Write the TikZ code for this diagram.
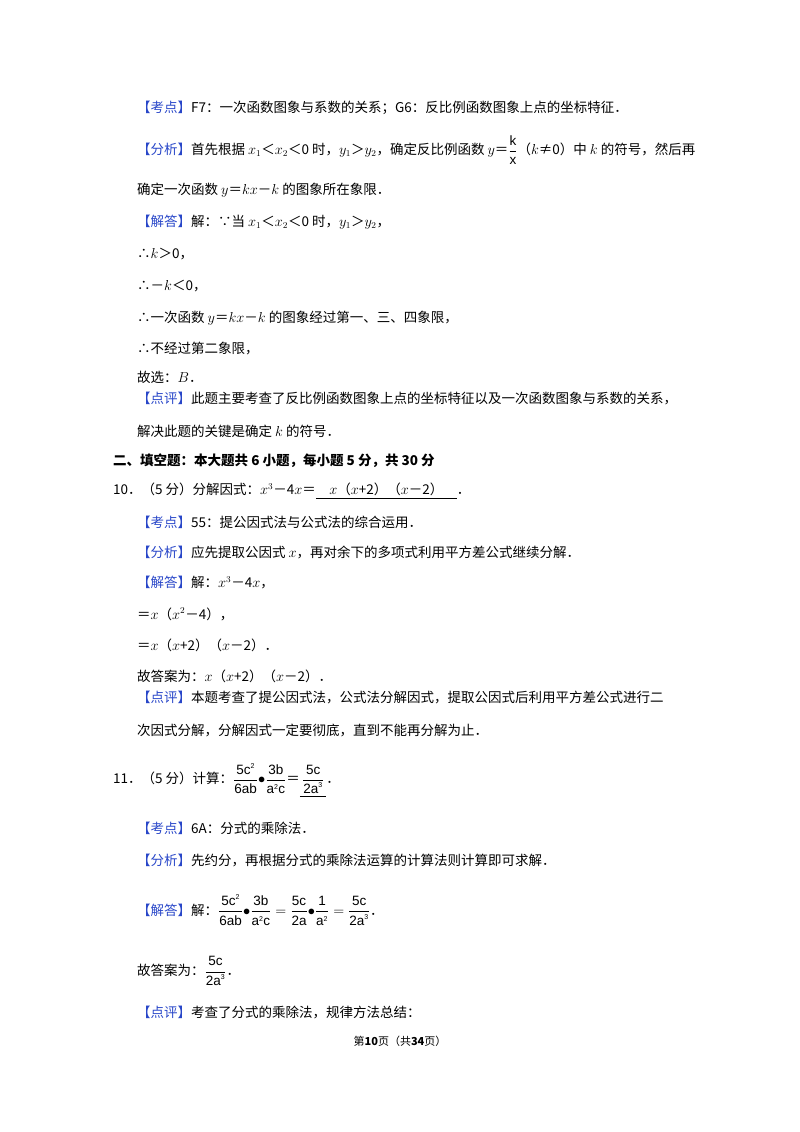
\documentclass[tikz,border=0pt]{standalone}
\usepackage{amsmath}
\usepackage{fontspec}
\setmainfont{Liberation Serif}
\newfontfamily\cjk{Noto Sans CJK SC}
\newfontfamily\sfa{Liberation Sans}
\definecolor{kb}{RGB}{40,70,200}
\newcommand{\kk}[1]{{\color{kb}【#1】}}
\newcommand{\sv}[1]{\mbox{\sfa #1}}
\newcommand{\sq}{\mbox{\sfa\scriptsize 2}}
\newcommand{\cu}{\mbox{\sfa\scriptsize 3}}
\begin{document}
\begin{tikzpicture}[x=1pt,y=-1pt,
  t/.style={anchor=west,inner sep=0pt,font=\cjk\fontsize{13.5}{16}\selectfont}]
\useasboundingbox (0,0) rectangle (800,1132);
\node[t] (a1) at (137,108) {\kk{考点}F7：一次函数图象与系数的关系；G6：反比例函数图象上点的坐标特征．};
\node[t] (a2) at (137,150) {\kk{分析}首先根据 $x_1$＜$x_2$＜0 时，$y_1$＞$y_2$，确定反比例函数 $y$＝$\dfrac{\sv{k}}{\sv{x}}$（$k$≠0）中 $k$ 的符号，然后再};
\node[t] (a3) at (137,190) {确定一次函数 $y$＝$kx$－$k$ 的图象所在象限．};
\node[t] (a4) at (137,222) {\kk{解答}解：∵当 $x_1$＜$x_2$＜0 时，$y_1$＞$y_2$，};
\node[t] (a5) at (137,254) {∴$k$＞0，};
\node[t] (a6) at (137,286) {∴－$k$＜0，};
\node[t] (a7) at (137,318) {∴一次函数 $y$＝$kx$－$k$ 的图象经过第一、三、四象限，};
\node[t] (a8) at (137,349) {∴不经过第二象限，};
\node[t] (a9) at (137,377) {故选：$B$．};
\node[t] (a10) at (137,399) {\kk{点评}此题主要考查了反比例函数图象上点的坐标特征以及一次函数图象与系数的关系，};
\node[t] (a11) at (137,431) {解决此题的关键是确定 $k$ 的符号．};
\node[t,font=\cjk\bfseries\fontsize{13.5}{16}\selectfont] (h) at (113,461) {二、填空题：本大题共 6 小题，每小题 5 分，共 30 分};
\node[t] (b1) at (113,491) {10．（5 分）分解因式：$x^3$－4$x$＝\underline{\quad $x$（$x$+2）（$x$－2）\quad}．};
\node[t] (b2) at (137,522) {\kk{考点}55：提公因式法与公式法的综合运用．};
\node[t] (b3) at (137,552) {\kk{分析}应先提取公因式 $x$，再对余下的多项式利用平方差公式继续分解．};
\node[t] (b4) at (137,583) {\kk{解答}解：$x^3$－4$x$，};
\node[t] (b5) at (137,614) {＝$x$（$x^2$－4），};
\node[t] (b6) at (137,645) {＝$x$（$x$+2）（$x$－2）．};
\node[t] (b7) at (137,676) {故答案为：$x$（$x$+2）（$x$－2）．};
\node[t] (b8) at (137,698) {\kk{点评}本题考查了提公因式法，公式法分解因式，提取公因式后利用平方差公式进行二};
\node[t] (b9) at (137,730) {次因式分解，分解因式一定要彻底，直到不能再分解为止．};
\node[t] (c1) at (113,780) {11．（5 分）计算：$\dfrac{\sv{5c}^{\sq}}{\sv{6ab}}{\bullet}\dfrac{\sv{3b}}{\sv{a}^{\sq}\sv{c}}$＝\underline{$\,\dfrac{\sv{5c}}{\sv{2a}^{\cu}}\,$}．};
\node[t] (c2) at (137,828) {\kk{考点}6A：分式的乘除法．};
\node[t] (c3) at (137,860) {\kk{分析}先约分，再根据分式的乘除法运算的计算法则计算即可求解．};
\node[t] (c4) at (137,910) {\kk{解答}解：$\dfrac{\sv{5c}^{\sq}}{\sv{6ab}}{\bullet}\dfrac{\sv{3b}}{\sv{a}^{\sq}\sv{c}}=\dfrac{\sv{5c}}{\sv{2a}}{\bullet}\dfrac{\sv{1}}{\sv{a}^{\sq}}=\dfrac{\sv{5c}}{\sv{2a}^{\cu}}$．};
\node[t] (c5) at (137,971) {故答案为：$\dfrac{\sv{5c}}{\sv{2a}^{\cu}}$．};
\node[t] (c6) at (137,1012) {\kk{点评}考查了分式的乘除法，规律方法总结：};
\node[t,anchor=center,font=\cjk\fontsize{11}{13}\selectfont] (f) at (400,1041) {第\textbf{10}页（共\textbf{34}页）};
\end{tikzpicture}
\end{document}
